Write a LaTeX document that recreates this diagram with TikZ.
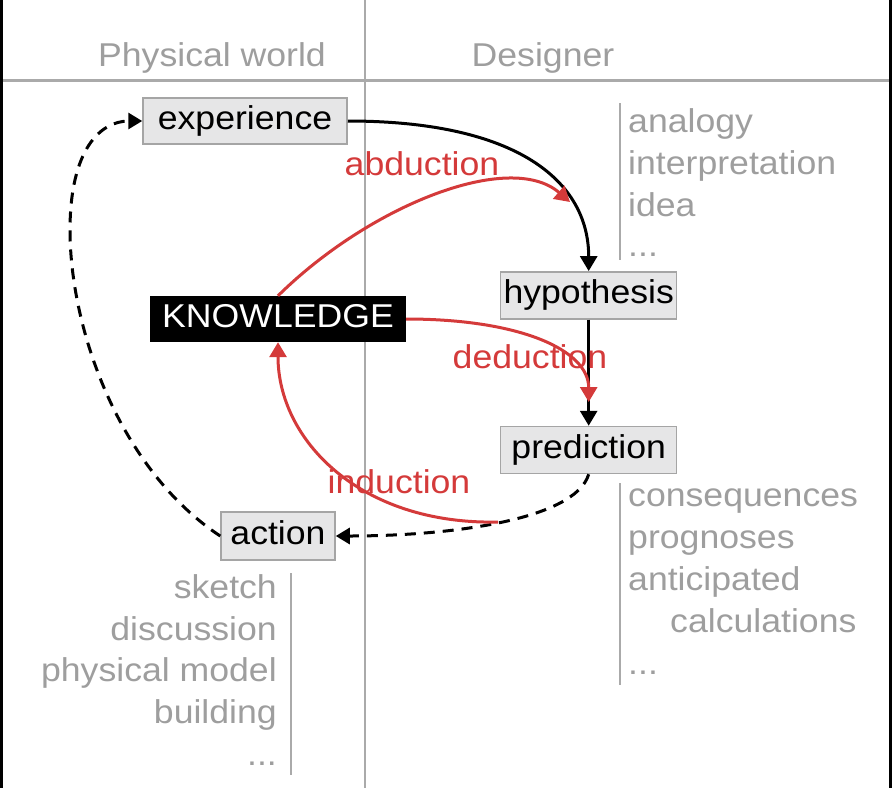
\documentclass[tikz,border=0pt]{standalone}
\usepackage{fontspec}
\setmainfont{Liberation Sans}[FakeStretch=1.08]
\usetikzlibrary{arrows.meta}
\definecolor{txtgray}{RGB}{158,158,158}
\definecolor{linegray}{RGB}{170,170,170}
\definecolor{boxfill}{RGB}{230,230,231}
\definecolor{boxdraw}{RGB}{165,165,165}
\definecolor{myred}{RGB}{212,58,58}
\begin{document}
\begin{tikzpicture}[x=1pt,y=-1pt,
  every node/.style={font=\fontsize{33}{40}\selectfont, inner sep=0pt},
  box/.style={draw=boxdraw, fill=boxfill, line width=1.5pt, text height=24pt, text depth=7pt},
  knowbox/.style={fill=black, text=white, text height=24pt, text depth=7pt},
  graytxt/.style={text=txtgray},
  redlbl/.style={text=myred},
  sep/.style={draw=linegray, line width=2pt},
  blkarrow/.style={line width=3pt, -{Triangle[length=15pt,width=17pt]}},
  redarrow/.style={draw=myred, line width=3pt, -{Triangle[length=15pt,width=17pt]}},
  dasharrow/.style={line width=3pt, dash pattern=on 11pt off 8pt, -{Triangle[length=14pt,width=16pt]}}
]
\useasboundingbox (0,0) rectangle (892,788);
% frame strips
\fill[black] (0,0) rectangle (3,788);
\fill[black] (889,0) rectangle (892,788);
% separators
\draw[sep] (365,0) -- (365,788);
\draw[draw=linegray, line width=3pt] (3,80) -- (889,80);
\draw[sep] (620,103) -- (620,260);
\draw[sep] (620,483) -- (620,685);
\draw[sep] (291,573) -- (291,775);

% headers
\node[graytxt, anchor=base] (hpw) at (212,66) {Physical world};
\node[graytxt, anchor=base] (hdes) at (543,66) {Designer};

% main nodes
\node[box, minimum width=204pt, minimum height=46pt] (exp) at (245,121) {experience};
\node[box, minimum width=176pt, minimum height=47pt] (hyp) at (588.7,295.3) {hypothesis};
\node[box, minimum width=176pt, minimum height=47pt] (pred) at (588.7,450) {prediction};
\node[box, minimum width=114pt, minimum height=48pt] (act) at (278,536) {action};
\node[knowbox, minimum width=256pt, minimum height=46pt] (know) at (278,319) {KNOWLEDGE};

% coordinates
\coordinate (abtip) at (570,202);
\coordinate (dedtip) at (588.7,402);
\coordinate (indstart) at (498,522);
\coordinate (loopL) at (70,230);

% black connectors
\draw[blkarrow] (exp.east) .. controls (517,121) and (588.7,181) .. (hyp.north);
\draw[blkarrow] (hyp.south) -- (pred.north);
\draw[dasharrow] (pred.south) .. controls (575,520) and (450,536) .. (act.east);
\draw[dasharrow] (act.west) .. controls (120,470) and (70,330) .. (loopL) .. controls (70,150) and (100,121) .. (exp.west);

% red connectors
\draw[redarrow] (know.north) .. controls (370,205) and (510,150) .. (abtip);
\draw[redarrow] (know.east) .. controls (520,319) and (588.7,350) .. (dedtip);
\draw[redarrow] (indstart) .. controls (360,525) and (278,440) .. (know.south);

% red labels
\node[redlbl, anchor=base] (labab) at (422,175) {abduction};
\node[redlbl, anchor=base] (labded) at (530,368) {deduction};
\node[redlbl, anchor=base] (labind) at (399,493) {induction};

% lists right top
\node[graytxt, anchor=base west] (r1a) at (628,132) {analogy};
\node[graytxt, anchor=base west] (r1b) at (628,174) {interpretation};
\node[graytxt, anchor=base west] (r1c) at (628,216) {idea};
\node[graytxt, anchor=base west] (r1d) at (628,256) {...};
% lists right bottom
\node[graytxt, anchor=base west] (r2a) at (628,506) {consequences};
\node[graytxt, anchor=base west] (r2b) at (628,548) {prognoses};
\node[graytxt, anchor=base west] (r2c) at (628,590) {anticipated};
\node[graytxt, anchor=base west] (r2d) at (670,632) {calculations};
\node[graytxt, anchor=base west] (r2e) at (628,674) {...};
% list left
\node[graytxt, anchor=base east] (l1) at (277,598) {sketch};
\node[graytxt, anchor=base east] (l2) at (277,640) {discussion};
\node[graytxt, anchor=base east] (l3) at (277,681) {physical model};
\node[graytxt, anchor=base east] (l4) at (277,723) {building};
\node[graytxt, anchor=base east] (l5) at (277,765) {...};
\end{tikzpicture}
\end{document}
